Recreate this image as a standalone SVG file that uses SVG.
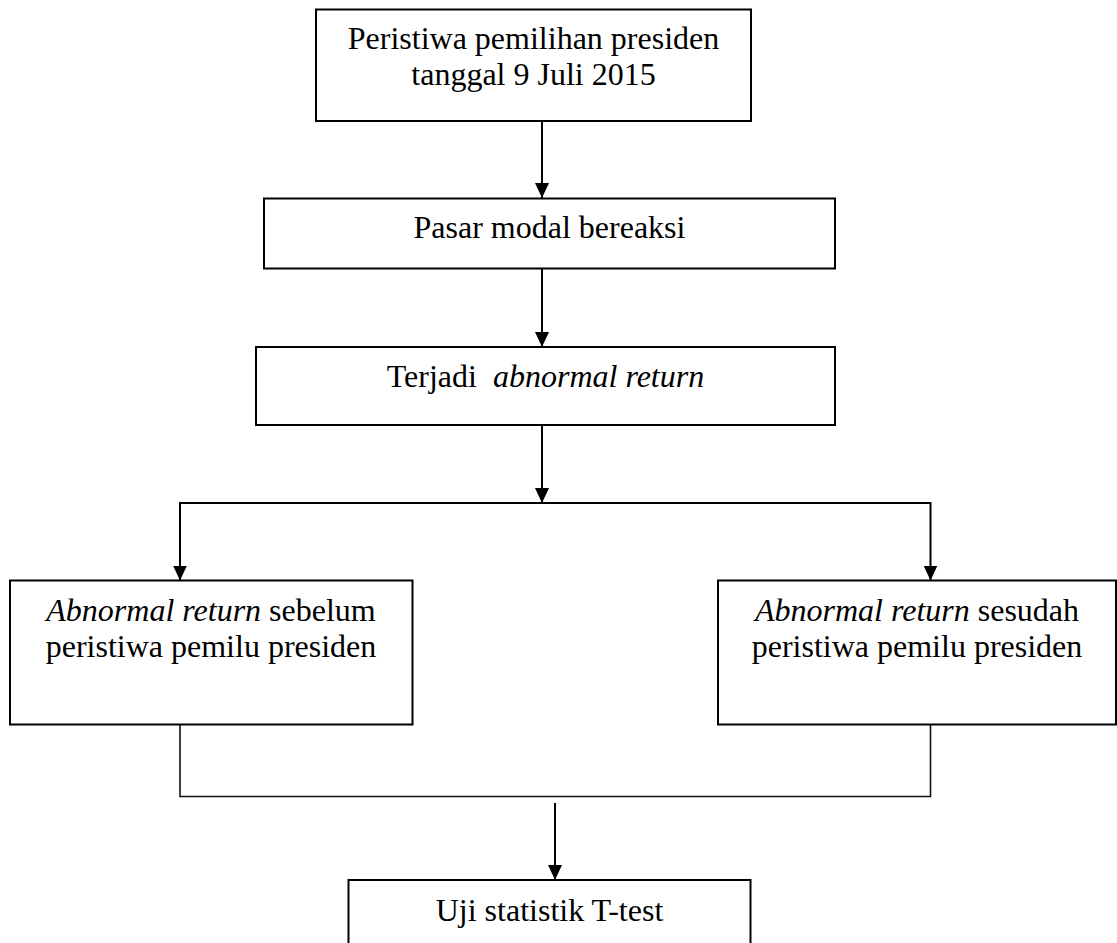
<svg xmlns="http://www.w3.org/2000/svg" width="1117" height="943" viewBox="0 0 1117 943">
<style>
.box{fill:#ffffff;stroke:#000000;stroke-width:2}
.conn{fill:none;stroke:#000000;stroke-width:2}
.thin{fill:none;stroke:#111111;stroke-width:1.6}
text{font-family:"Liberation Serif","Times New Roman",serif;font-size:32px;fill:#000000;text-anchor:middle}
.it{font-style:italic}
</style>
<defs>
<marker id="arr" viewBox="0 0 15 14" refX="15" refY="7" markerWidth="15" markerHeight="14" markerUnits="userSpaceOnUse" orient="auto">
<path d="M0,0 L15,7 L0,14 Z" fill="#000000"/>
</marker>
</defs>
<rect x="0" y="0" width="1117" height="943" fill="#ffffff"/>
<g id="connectors">
<path class="conn" d="M542,121.5 V198" marker-end="url(#arr)"/>
<path class="conn" d="M542,268.5 V347" marker-end="url(#arr)"/>
<path class="conn" d="M542,425 V503" marker-end="url(#arr)"/>
<path class="conn" d="M542,503 H180 V580.5" marker-end="url(#arr)"/>
<path class="conn" d="M542,503 H930.5 V580.5" marker-end="url(#arr)"/>
<path class="thin" d="M180,724.5 V796.5 H930.5 V724.5"/>
<path class="conn" d="M555,803 V880" marker-end="url(#arr)"/>
</g>
<g id="node-peristiwa">
<rect class="box" x="316" y="9.5" width="435" height="111.5"/>
<text x="533.5" y="49">Peristiwa pemilihan presiden</text>
<text x="533.5" y="85">tanggal 9 Juli 2015</text>
</g>
<g id="node-pasar">
<rect class="box" x="264" y="198.5" width="571" height="70"/>
<text x="549.5" y="238">Pasar modal bereaksi</text>
</g>
<g id="node-terjadi">
<rect class="box" x="256" y="347" width="579" height="78"/>
<text x="545.5" y="387" xml:space="preserve">Terjadi  <tspan class="it">abnormal return</tspan></text>
</g>
<g id="node-sebelum">
<rect class="box" x="10" y="580.5" width="402.5" height="144"/>
<text x="211" y="621"><tspan class="it">Abnormal return</tspan> sebelum</text>
<text x="211" y="657">peristiwa pemilu presiden</text>
</g>
<g id="node-sesudah">
<rect class="box" x="718" y="580.5" width="398" height="144"/>
<text x="917" y="621"><tspan class="it">Abnormal return</tspan> sesudah</text>
<text x="917" y="657">peristiwa pemilu presiden</text>
</g>
<g id="node-ttest">
<rect class="box" x="348.5" y="880" width="402" height="80"/>
<text x="549.5" y="921">Uji statistik T-test</text>
</g>
</svg>
